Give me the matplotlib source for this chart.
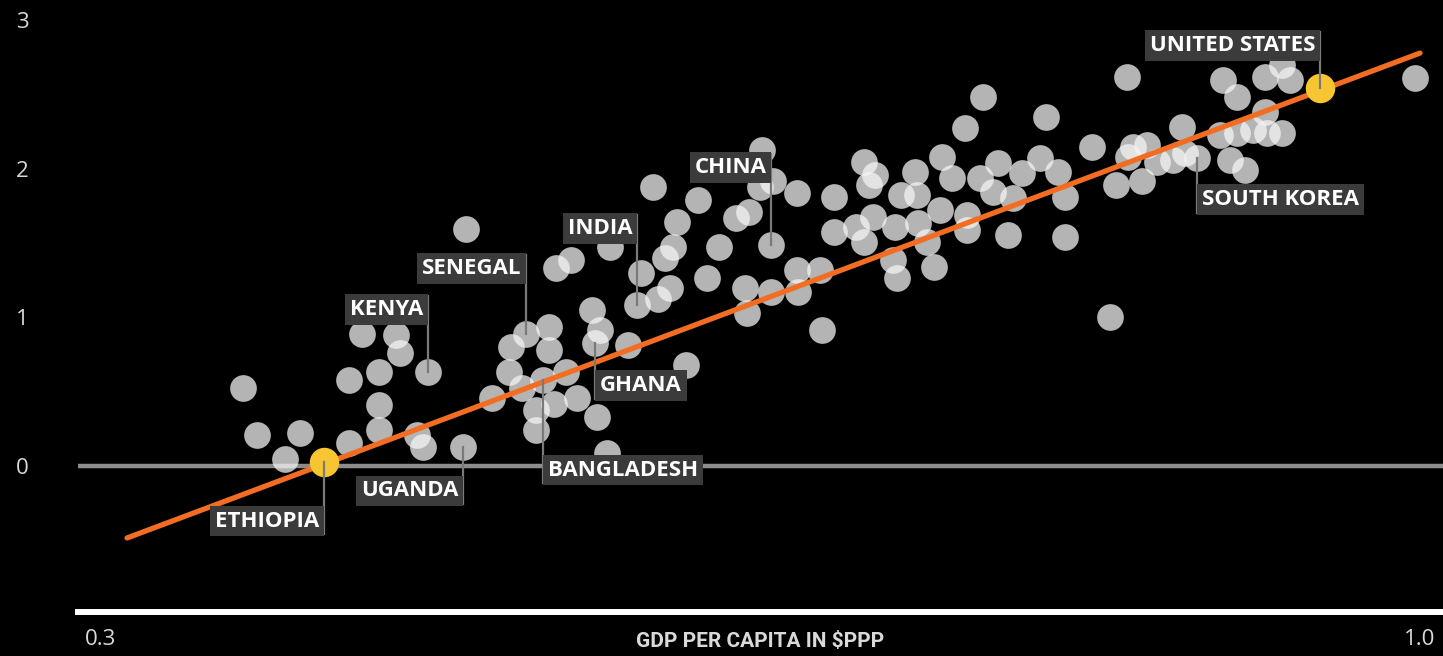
import matplotlib
matplotlib.use("Agg")
import matplotlib.pyplot as plt

# country dots: x = index (0.3 .. 1.0), y = value
dot_x = [0.376, 0.383, 0.406, 0.398, 0.432, 0.439, 0.457, 0.459, 0.474, 0.448,
         0.448, 0.448, 0.432, 0.468, 0.471, 0.4925, 0.508, 0.494,
         0.518, 0.526, 0.538, 0.538, 0.517, 0.524, 0.535, 0.547, 0.553, 0.541,
         0.531, 0.531, 0.5635, 0.569, 0.561, 0.565, 0.5625, 0.542, 0.55, 0.5705,
         0.58, 0.585, 0.587, 0.5995, 0.604, 0.602, 0.596, 0.622, 0.593, 0.606,
         0.617, 0.628, 0.611, 0.637, 0.644, 0.65, 0.651, 0.657, 0.656, 0.642,
         0.643, 0.656, 0.6695, 0.67, 0.682, 0.683, 0.6695, 0.689, 0.689, 0.701,
         0.705, 0.71, 0.705, 0.711, 0.708, 0.7205, 0.7225, 0.7215, 0.734, 0.7385,
         0.742, 0.725, 0.733, 0.732, 0.7465, 0.752, 0.7455, 0.76, 0.76, 0.7585,
         0.768, 0.7665, 0.776, 0.7735, 0.7815, 0.784, 0.789, 0.7985, 0.808,
         0.8117, 0.8117, 0.8017, 0.826, 0.839, 0.8526, 0.845, 0.848, 0.855,
         0.8605, 0.869, 0.8755, 0.8817, 0.874, 0.899, 0.907, 0.894, 0.903,
         0.9115, 0.919, 0.927, 0.918, 0.8955, 0.903, 0.918, 0.927, 0.931,
         0.8446, 0.8356, 0.9974]
dot_y = [0.525, 0.21, 0.22, 0.05, 0.58, 0.89, 0.88, 0.76, 0.63, 0.63,
         0.41, 0.24, 0.155, 0.21, 0.13, 0.13, 0.46, 1.595,
         0.80, 0.89, 0.935, 0.78, 0.63, 0.525, 0.58, 0.63, 0.46, 0.42,
         0.375, 0.24, 0.33, 0.09, 1.05, 0.915, 0.83, 1.33, 1.385, 1.47,
         0.815, 1.08, 1.30, 1.40, 1.47, 1.20, 1.12, 1.265, 1.875, 1.64,
         1.79, 1.47, 0.68, 1.67, 1.71, 1.875, 2.125, 1.92, 1.485, 1.20,
         1.03, 1.17, 1.32, 1.17, 1.32, 0.915, 1.835, 1.81, 1.575, 1.61,
         1.505, 1.675, 2.045, 1.96, 1.89, 1.385, 1.265, 1.61, 1.635, 1.505,
         1.34, 1.82, 1.82, 1.98, 2.08, 1.94, 1.72, 1.69, 1.59, 2.27,
         2.48, 1.94, 2.04, 1.84, 1.555, 1.80, 1.97, 2.07, 1.98,
         1.81, 1.54, 2.35, 2.145, 1.89, 1.92, 2.08, 2.145, 2.16,
         2.045, 2.06, 2.105, 2.07, 2.28, 2.06, 1.99, 2.225, 2.24,
         2.26, 2.24, 2.24, 2.38, 2.595, 2.48, 2.615, 2.70, 2.595,
         2.615, 1.00, 2.61]

# highlighted countries
hi_x = [0.419, 0.947]
hi_y = [0.03, 2.54]

# fitted line
fit_slope = 4.756
fit_intercept = -1.979
fit_x = [0.3143, 1.0]

# labels: name, point x, point y, label y, side of box
lab_names = ["UNITED STATES", "SOUTH KOREA", "CHINA", "INDIA", "SENEGAL",
             "KENYA", "GHANA", "BANGLADESH", "UGANDA", "ETHIOPIA"]
lab_px = [0.947, 0.8817, 0.656, 0.585, 0.526, 0.474, 0.5625, 0.535, 0.4925, 0.419]
lab_py = [2.54, 2.07, 1.485, 1.08, 0.89, 0.63, 0.83, 0.58, 0.13, 0.03]
lab_ty = [2.83, 1.79, 2.01, 1.595, 1.33, 1.05, 0.54, -0.027, -0.168, -0.37]
lab_side = ["L", "R", "L", "L", "L", "L", "R", "R", "L", "L"]

yticks = [0, 1, 2, 3]
xticks = [0.3, 1.0]
xtick_labels = ["0.3", "1.0"]

W, H = 1443, 656
fig = plt.figure(figsize=(W / 100, H / 100), dpi=100, facecolor="black")
ax = fig.add_axes([78 / W, 44 / H, 1 - 78 / W, 612 / H], facecolor="black")
ax.set_xlim(0.2883, 1.0122)
ax.set_ylim(-0.982, 3.134)

ax.axhline(0, color="#8c8c8c", lw=3.2, zorder=1)
ax.scatter(dot_x, dot_y, s=370, color="#f4f4f4", alpha=0.74, linewidths=0, zorder=2)
ax.plot(fit_x, [fit_slope * v + fit_intercept for v in fit_x],
        color="#f26d21", lw=3.8, solid_capstyle="round", zorder=3)
ax.scatter(hi_x, hi_y, s=450, color="#f7c531", linewidths=0, zorder=4)

fs = 16
pad = 0.22
half_box = 0.09
for name, px, py, ty, side in zip(lab_names, lab_px, lab_py, lab_ty, lab_side):
    end = ty + half_box if py < ty else ty - half_box
    ax.plot([px, px], [py, end], color="#7a7a7a", lw=1.6, zorder=5)
    off = -pad * fs if side == "L" else pad * fs
    ax.annotate(name, xy=(px, ty), xytext=(off, 0), textcoords="offset points",
                ha="right" if side == "L" else "left", va="center",
                fontsize=fs, fontweight="bold", color="white",
                family=["Open Sans", "DejaVu Sans"], zorder=6,
                bbox=dict(boxstyle=f"square,pad={pad}", fc="#3b3b3b", ec="none"))

for s in ["top", "right", "left"]:
    ax.spines[s].set_visible(False)
ax.spines["bottom"].set_color("white")
ax.spines["bottom"].set_linewidth(4.3)

ax.set_yticks(yticks)
ax.set_yticklabels([str(v) for v in yticks])
ax.set_xticks(xticks)
ax.set_xticklabels(xtick_labels)
ax.tick_params(axis="both", length=0, colors="#d9d9d9", labelsize=16)
ax.tick_params(axis="y", pad=40)
ax.tick_params(axis="x", pad=12)
for t in ax.get_xticklabels() + ax.get_yticklabels():
    t.set_family(["Open Sans", "DejaVu Sans"])
for t in ax.get_yticklabels():
    t.set_horizontalalignment("center")

ax.set_xlabel("GDP PER CAPITA IN $PPP", fontsize=15, fontweight="bold",
              color="#d9d9d9", family=["Roboto", "DejaVu Sans"])
ax.xaxis.set_label_coords(0.5, -0.033)

fig.savefig("out.png", dpi=100, facecolor="black")
